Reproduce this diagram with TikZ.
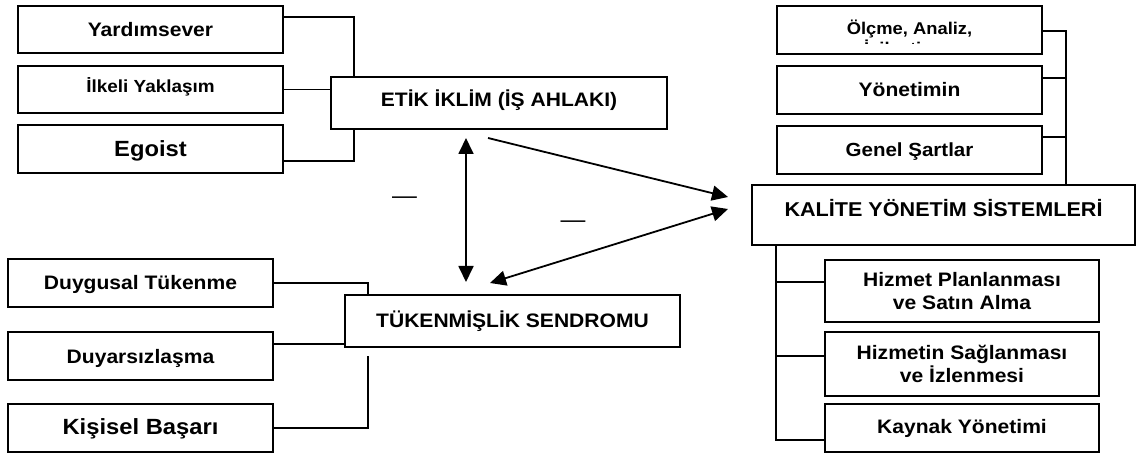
\documentclass[tikz,border=0pt]{standalone}
\usepackage{fontspec}
\setmainfont{Liberation Sans}[FakeStretch=1.08]
\usetikzlibrary{arrows.meta,calc}
% font sizes used in the boxes
\newcommand\fntA{\bfseries\fontsize{19.5}{23}\selectfont}
\newcommand\fntB{\bfseries\fontsize{17.5}{20}\selectfont}
\newcommand\fntC{\bfseries\fontsize{22}{25}\selectfont}
\newcommand\fntD{\bfseries\fontsize{17}{20}\selectfont}
\newcommand\fntE{\bfseries\fontsize{19}{22}\selectfont}
\newcommand\fntF{\bfseries\fontsize{20}{23}\selectfont}
\begin{document}
\begin{tikzpicture}[x=1pt,y=-1pt,
  box/.style={draw, line width=1.8pt, inner sep=0pt, align=center, text depth=0pt},
  link/.style={line width=1.6pt},
  arr/.style={line width=1.8pt, -{Triangle[length=16pt,width=15pt]}},
  darr/.style={line width=1.8pt, {Triangle[length=16pt,width=15pt]}-{Triangle[length=16pt,width=15pt]}},
  dash/.style={}, 
  minus/.style={font=\fontsize{23}{23}\selectfont, inner sep=0pt, anchor=base}]
\useasboundingbox (0,0) rectangle (1138,454);

% ethical climate group
\node[box, minimum width=265pt, minimum height=47pt, font=\fntA, text height=14pt] (yard) at (150.5,29.5) {Yardımsever};
\node[box, minimum width=265pt, minimum height=47pt, font=\fntB, text height=12.5pt, text depth=7.4pt] (ilk) at (150.5,89.5) {İlkeli Yaklaşım};
\node[box, minimum width=265pt, minimum height=48pt, font=\fntC, text height=15.75pt] (ego) at (150.5,149) {Egoist};
\node[box, minimum width=336pt, minimum height=52pt, font=\fntA, text height=14pt, text depth=6.6pt] (etik) at (499,103) {ETİK İKLİM (İŞ AHLAKI)};

% burnout group
\node[box, minimum width=265pt, minimum height=48pt, font=\fntA, text height=14pt] (duy) at (140.5,283) {Duygusal Tükenme};
\node[box, minimum width=265pt, minimum height=48pt, font=\fntA, text height=14pt] (dya) at (140.5,356) {Duyarsızlaşma};
\node[box, minimum width=265pt, minimum height=48pt, font=\fntC, text height=15.75pt, text depth=3pt] (kis) at (140.5,428) {Kişisel Başarı};
\node[box, minimum width=335pt, minimum height=52pt, font=\fntA, text height=14pt] (tuk) at (512.5,321) {TÜKENMİŞLİK SENDROMU};

% quality management group
\node[box, minimum width=265pt, minimum height=48pt] (olc) at (909.5,30) {};
\begin{scope}
  \clip (olc.north west) rectangle ($(olc.north east)+(0,38.3)$);
  \node[font=\fntD, inner sep=0pt, anchor=base] (olc1) at (909.5,35) {Ölçme, Analiz,};
  \node[font=\fntD, inner sep=0pt, anchor=base] (olc2) at (909.5,55) {İyileştirme};
\end{scope}
\node[box, minimum width=265pt, minimum height=48pt, font=\fntA, text height=14pt] (yon) at (909.5,90) {Yönetimin};
\node[box, minimum width=265pt, minimum height=48pt, font=\fntE, text height=13.6pt] (gen) at (909.5,150) {Genel Şartlar};
\node[box, minimum width=383pt, minimum height=60pt, font=\fntF, text height=14.3pt, text depth=11pt] (kal) at (943.5,215) {KALİTE YÖNETİM SİSTEMLERİ};
\node[box, minimum width=274pt, minimum height=62pt, font=\fntA] (hp) at (962,291) {Hizmet Planlanması\\ve Satın Alma};
\node[box, minimum width=274pt, minimum height=64pt, font=\fntA] (hs) at (962,364) {Hizmetin Sağlanması\\ve İzlenmesi};
\node[box, minimum width=274pt, minimum height=48pt, font=\fntA, text height=14pt, text depth=3pt] (kay) at (962,428) {Kaynak Yönetimi};

% connectors, left top
\draw[link] ([yshift=12.5pt]yard.east) -| ([xshift=24pt]etik.north west);
\draw[link] (ilk.east) -- (ilk.east -| etik.west);
\draw[link] ([yshift=-12pt]ego.east) -| ([xshift=24pt]etik.south west);

% connectors, left bottom
\coordinate (kisend) at ([xshift=24pt,yshift=-8pt]tuk.south west);
\draw[link] (duy.east) -| ([xshift=24pt]tuk.north west);
\draw[link] ([yshift=12pt]dya.east) -- ([yshift=12pt]dya.east -| tuk.west);
\draw[link] (kis.east) -| (kisend);

% connectors, right top
\draw[link] ([yshift=-1pt]olc.east) -| ([xshift=23pt]olc.east |- kal.north);
\draw[link] ([yshift=12pt]yon.east) -- ++(23,0);
\draw[link] ([yshift=13pt]gen.east) -- ++(23,0);

% connectors, right bottom
\coordinate (kt) at ([xshift=25pt]kal.south west);
\draw[link] (kt) |- ([yshift=-12pt]kay.west);
\draw[link] ([yshift=9pt]hp.west) -- ([yshift=9pt]hp.west -| kt);
\draw[link] ([yshift=8pt]hs.west) -- ([yshift=8pt]hs.west -| kt);

% relations
\coordinate (v1) at (466,138);
\coordinate (v2) at (466,282);
\coordinate (e1) at (488,138);
\coordinate (k1) at (728,197);
\coordinate (k2) at (728,209);
\coordinate (t1) at (490,283);
\draw[darr] (v1) -- (v2);
\draw[arr] (e1) -- (k1);
\draw[darr] (k2) -- (t1);

\node[minus] (m1) at (404.5,203.3) {—};
\node[minus] (m2) at (573,227.3) {—};
\end{tikzpicture}
\end{document}
